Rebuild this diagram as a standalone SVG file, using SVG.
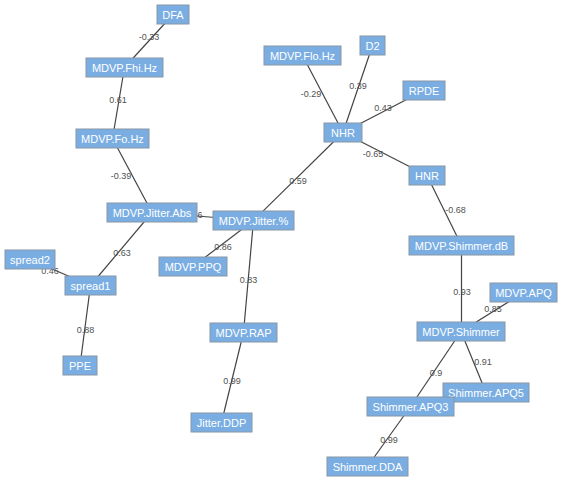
<svg xmlns="http://www.w3.org/2000/svg" width="563" height="481" viewBox="0 0 563 481">
<style>
.n rect{fill:#7aaee3;stroke:#8796a6;stroke-width:1}
.n text{fill:#fff;font-family:"Liberation Sans",Arial,sans-serif;font-size:11px;text-anchor:middle}
.e line{stroke:#444;stroke-width:1.2}
.l text{fill:#505050;font-family:"Liberation Sans",Arial,sans-serif;font-size:9px;text-anchor:middle}
</style>
<rect width="563" height="481" fill="#fff"/>
<g id="connectors" class="e">
<line x1="173" y1="14.5" x2="124.5" y2="67.5"/>
<line x1="124.5" y1="67.5" x2="112.5" y2="138.5"/>
<line x1="112.5" y1="138.5" x2="152" y2="212.5"/>
<line x1="152" y1="212.5" x2="253.5" y2="220.5"/>
<line x1="152" y1="212.5" x2="90.5" y2="285.5"/>
<line x1="90.5" y1="285.5" x2="30" y2="259.5"/>
<line x1="90.5" y1="285.5" x2="80" y2="365.5"/>
<line x1="253.5" y1="220.5" x2="343" y2="132.5"/>
<line x1="253.5" y1="220.5" x2="193" y2="266.5"/>
<line x1="253.5" y1="220.5" x2="243.5" y2="332.5"/>
<line x1="243.5" y1="332.5" x2="221.5" y2="422.5"/>
<line x1="343" y1="132.5" x2="302.5" y2="55.5"/>
<line x1="343" y1="132.5" x2="372.5" y2="45.5"/>
<line x1="343" y1="132.5" x2="424" y2="90.5"/>
<line x1="343" y1="132.5" x2="427" y2="175.5"/>
<line x1="427" y1="175.5" x2="461.5" y2="245.5"/>
<line x1="461.5" y1="245.5" x2="461.5" y2="331.5"/>
<line x1="461" y1="331.5" x2="523.5" y2="292.5"/>
<line x1="461" y1="331.5" x2="486" y2="392.5"/>
<line x1="461" y1="331.5" x2="410.5" y2="406.5"/>
<line x1="410.5" y1="406.5" x2="367.5" y2="466.5"/>
</g>
<g id="edge-labels" class="l">
<text x="149" y="40">-0.33</text>
<text x="118" y="103">0.61</text>
<text x="121" y="179">-0.39</text>
<text x="200" y="218">6</text>
<text x="122" y="256">0.63</text>
<text x="50" y="274">0.46</text>
<text x="85.5" y="333">0.88</text>
<text x="298" y="184">0.59</text>
<text x="223" y="250">0.86</text>
<text x="248.5" y="283">0.83</text>
<text x="232" y="384">0.99</text>
<text x="311" y="97">-0.29</text>
<text x="358" y="89">0.39</text>
<text x="383" y="111">0.43</text>
<text x="373" y="157">-0.65</text>
<text x="455.5" y="213">-0.68</text>
<text x="462" y="295">0.93</text>
<text x="493" y="312">0.85</text>
<text x="483" y="365">0.91</text>
<text x="436" y="376">0.9</text>
<text x="389" y="443">0.99</text>
</g>
<g id="DFA" class="n"><rect x="157" y="5" width="32" height="19"/><text x="173" y="18.5">DFA</text></g>
<g id="MDVP.Fhi.Hz" class="n"><rect x="86" y="58" width="77" height="19"/><text x="124.5" y="71.5">MDVP.Fhi.Hz</text></g>
<g id="MDVP.Fo.Hz" class="n"><rect x="76" y="129" width="73" height="19"/><text x="112.5" y="142.5">MDVP.Fo.Hz</text></g>
<g id="MDVP.Jitter.Abs" class="n"><rect x="107" y="203" width="90" height="19"/><text x="152" y="216.5">MDVP.Jitter.Abs</text></g>
<g id="MDVP.Jitter.pct" class="n"><rect x="213" y="211" width="81" height="19"/><text x="253.5" y="224.5">MDVP.Jitter.%</text></g>
<g id="MDVP.PPQ" class="n"><rect x="159" y="257" width="68" height="19"/><text x="193" y="270.5">MDVP.PPQ</text></g>
<g id="spread2" class="n"><rect x="5" y="250" width="50" height="19"/><text x="30" y="263.5">spread2</text></g>
<g id="spread1" class="n"><rect x="65" y="276" width="51" height="19"/><text x="90.5" y="289.5">spread1</text></g>
<g id="PPE" class="n"><rect x="63" y="356" width="34" height="19"/><text x="80" y="369.5">PPE</text></g>
<g id="MDVP.RAP" class="n"><rect x="210" y="323" width="67" height="19"/><text x="243.5" y="336.5">MDVP.RAP</text></g>
<g id="Jitter.DDP" class="n"><rect x="191" y="413" width="61" height="19"/><text x="221.5" y="426.5">Jitter.DDP</text></g>
<g id="MDVP.Flo.Hz" class="n"><rect x="264" y="46" width="77" height="19"/><text x="302.5" y="59.5">MDVP.Flo.Hz</text></g>
<g id="D2" class="n"><rect x="360" y="36" width="25" height="19"/><text x="372.5" y="49.5">D2</text></g>
<g id="RPDE" class="n"><rect x="403" y="81" width="42" height="19"/><text x="424" y="94.5">RPDE</text></g>
<g id="NHR" class="n"><rect x="324" y="123" width="38" height="19"/><text x="343" y="136.5">NHR</text></g>
<g id="HNR" class="n"><rect x="409" y="166" width="36" height="19"/><text x="427" y="179.5">HNR</text></g>
<g id="MDVP.Shimmer.dB" class="n"><rect x="409" y="236" width="105" height="19"/><text x="461.5" y="249.5">MDVP.Shimmer.dB</text></g>
<g id="MDVP.APQ" class="n"><rect x="490" y="283" width="67" height="19"/><text x="523.5" y="296.5">MDVP.APQ</text></g>
<g id="MDVP.Shimmer" class="n"><rect x="417" y="322" width="88" height="19"/><text x="461" y="335.5">MDVP.Shimmer</text></g>
<g id="Shimmer.APQ5" class="n"><rect x="443" y="383" width="86" height="19"/><text x="486" y="396.5">Shimmer.APQ5</text></g>
<g id="Shimmer.APQ3" class="n"><rect x="367" y="397" width="87" height="19"/><text x="410.5" y="410.5">Shimmer.APQ3</text></g>
<g id="Shimmer.DDA" class="n"><rect x="327" y="457" width="81" height="19"/><text x="367.5" y="470.5">Shimmer.DDA</text></g>
</svg>
